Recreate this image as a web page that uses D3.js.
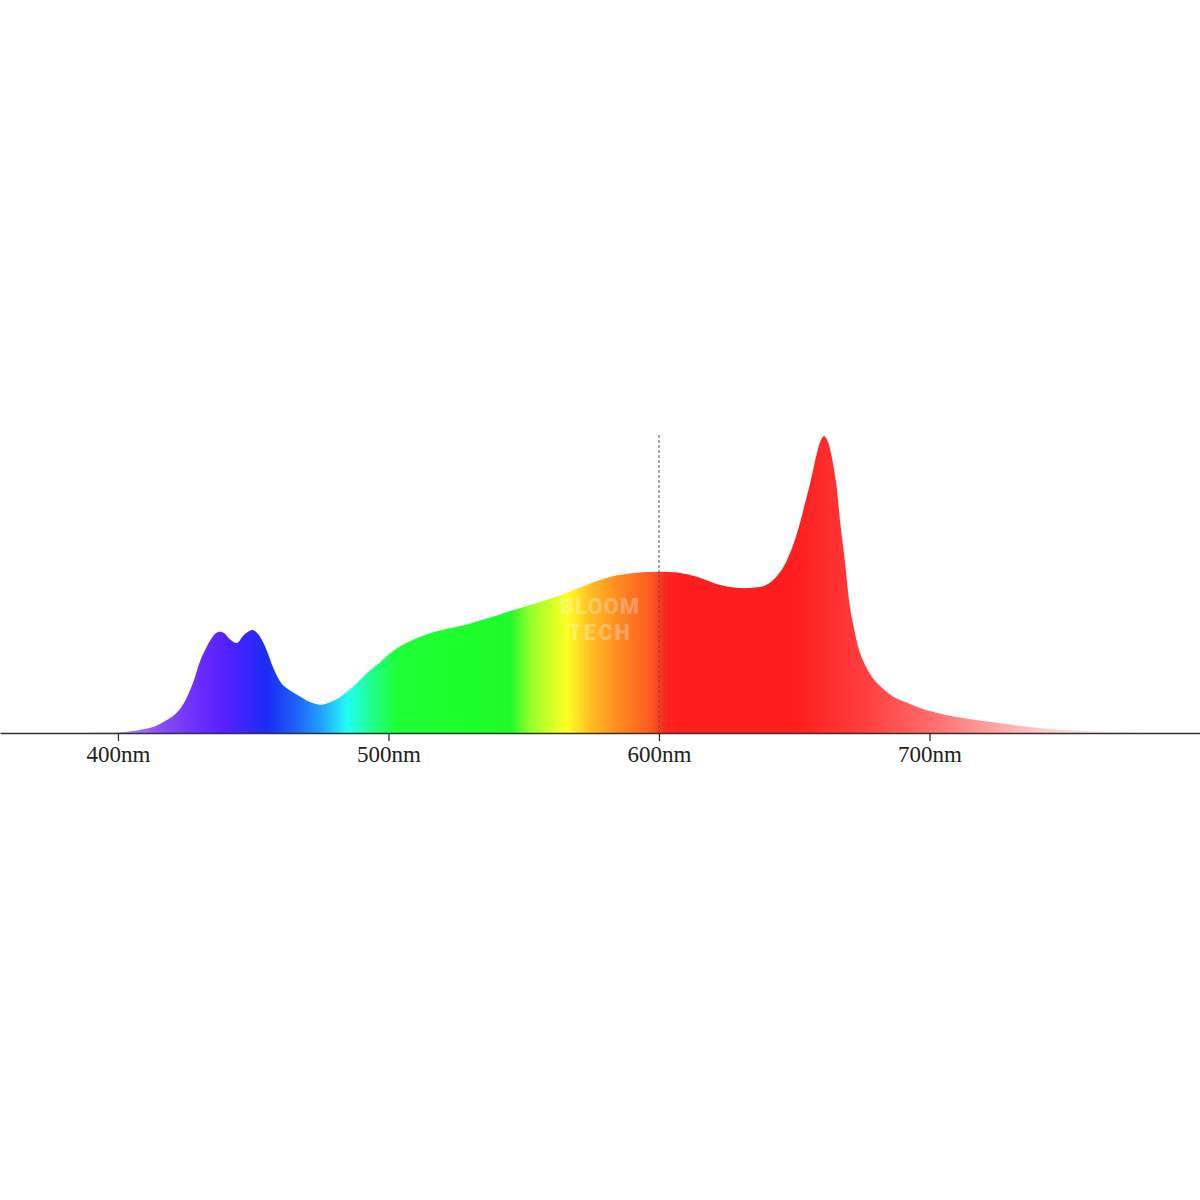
<!DOCTYPE html>
<html>
<head>
<meta charset="utf-8">
<script src="https://cdn.jsdelivr.net/npm/d3@7"></script>
<style>
  html, body { margin: 0; padding: 0; background: #ffffff; }
  svg { display: block; }
</style>
</head>
<body>
<svg id="chart" width="1200" height="1200"></svg>
<script>
// wavelength (nm)
const wavelengths = [356.4, 378.6, 393.4, 400.0, 405.6, 413.0, 417.4, 421.8, 424.8, 427.8,
  430.3, 434.0, 436.3, 437.7, 439.2, 441.4, 444.0, 446.2, 448.4, 449.9,
  451.8, 453.6, 455.5, 457.3, 459.2, 460.7, 463.6, 467.3, 471.0, 474.0,
  475.8, 479.1, 483.2, 487.6, 492.1, 496.9, 500.6, 504.3, 509.1, 515.4,
  521.7, 528.3, 533.9, 540.1, 546.0, 552.3, 558.6, 565.3, 570.8, 577.1,
  583.0, 589.3, 595.6, 600.0, 604.1, 607.8, 614.1, 620.0, 625.2, 630.0,
  634.4, 638.5, 641.8, 644.8, 647.3, 649.6, 652.2, 654.0, 655.9, 657.7,
  658.8, 659.9, 661.0, 662.1, 663.2, 665.5, 666.9, 668.8, 670.6, 672.5,
  674.3, 677.3, 680.6, 686.5, 692.8, 699.1, 711.3, 723.5, 736.1, 748.3,
  760.5, 781.5, 800.0];
// relative intensity (%)
const intensity = [0, 0, 0.1, 0.2, 0.7, 2.0, 4.0, 6.9, 10.8, 17.0,
  24.0, 31.0, 33.7, 34.1, 33.7, 31.6, 30.3, 32.7, 34.3, 34.7,
  33.3, 30.6, 26.6, 22.2, 18.5, 16.4, 14.3, 12.3, 10.4, 9.6,
  9.6, 10.6, 12.8, 16.2, 20.2, 23.8, 26.8, 29.2, 31.4, 33.6,
  35.1, 36.4, 37.9, 39.6, 41.3, 43.1, 44.9, 47.0, 49.0, 51.2,
  52.8, 53.7, 54.2, 54.3, 54.2, 53.9, 52.6, 50.6, 49.3, 48.8,
  48.9, 49.4, 51.2, 54.2, 58.2, 63.3, 71.0, 77.4, 84.2, 91.6,
  95.6, 98.7, 100, 98.8, 95.8, 84.2, 71.7, 57.2, 42.4, 33.4,
  27.0, 21.0, 16.8, 12.3, 9.8, 7.7, 5.2, 3.6, 2.1, 1.1,
  0.6, 0.2, 0];

// spectrum colour stops
const stopNm = [395, 415, 430, 440, 455, 465, 475, 485, 495, 503, 530, 545, 553, 566, 575, 585, 597, 602, 607, 650, 675, 700, 720, 745, 780];
const stopColors = ["#c8a8ff", "#8a50f8", "#6a2cff", "#5520ff", "#1a2cf5", "#1e5cf8", "#22a0ff", "#20fff0", "#20ff80", "#1eff38",
  "#1dff2a", "#20fa2a", "#9cff2a", "#ffff22", "#ffbb22", "#ff8a22", "#ff5a20", "#ff2820", "#ff1e1e", "#ff1e1e",
  "#ff3c3c", "#ff6a6a", "#ff9a9a", "#ffd0d0", "#ffffff"];

const tickValues = [400, 500, 600, 700];
const markerNm = 600;
const watermarkLines = ["BLOOM", "TECH"];

const data = wavelengths.map((w, i) => ({ w, v: intensity[i] }));

const svg = d3.select("#chart");
const x = d3.scaleLinear().domain([356.4, 800]).range([0, 1200]);
const y = d3.scaleLinear().domain([0, 100]).range([733, 436]);

const defs = svg.append("defs");
const grad = defs.append("linearGradient")
  .attr("id", "spec")
  .attr("gradientUnits", "userSpaceOnUse")
  .attr("x1", 0).attr("x2", 1200).attr("y1", 0).attr("y2", 0);
stopNm.forEach((nm, i) => {
  grad.append("stop")
    .attr("offset", x(nm) / 1200)
    .attr("stop-color", stopColors[i]);
});

const area = d3.area()
  .x(d => x(d.w))
  .y0(y(0))
  .y1(d => y(d.v))
  .curve(d3.curveCatmullRom.alpha(0.5));

svg.append("path")
  .datum(data)
  .attr("d", area)
  .attr("fill", "url(#spec)");

// watermark
const wm = svg.append("g").attr("fill", "#ffffff").attr("fill-opacity", 0.28)
  .attr("font-family", "Roboto, 'DejaVu Sans', sans-serif").attr("font-weight", 900);
wm.append("text").attr("x", 600).attr("y", 614).attr("text-anchor", "middle")
  .attr("font-size", 22).attr("letter-spacing", 1).text(watermarkLines[0]);
wm.append("text").attr("x", 600).attr("y", 640).attr("text-anchor", "middle")
  .attr("font-size", 22).attr("letter-spacing", 2).text(watermarkLines[1]);

// axis
const axis = d3.axisBottom(x)
  .tickValues(tickValues)
  .tickSize(8)
  .tickSizeOuter(0)
  .tickPadding(5)
  .tickFormat(d => d + "nm");

const gAxis = svg.append("g")
  .attr("transform", `translate(0,${y(0)})`)
  .call(axis);
gAxis.select(".domain").attr("stroke", "#333").attr("stroke-width", 1.3);
gAxis.selectAll(".tick line").attr("stroke", "#333").attr("stroke-width", 1.3);
gAxis.selectAll(".tick text")
  .attr("fill", "#222")
  .attr("font-family", "'Liberation Serif', 'Times New Roman', serif")
  .attr("font-size", 23);

// dashed marker line at 600nm
svg.append("line")
  .attr("x1", x(markerNm)).attr("x2", x(markerNm))
  .attr("y1", 435).attr("y2", y(0))
  .attr("stroke", "#555")
  .attr("stroke-width", 1)
  .attr("stroke-dasharray", "3,2");
</script>
</body>
</html>
